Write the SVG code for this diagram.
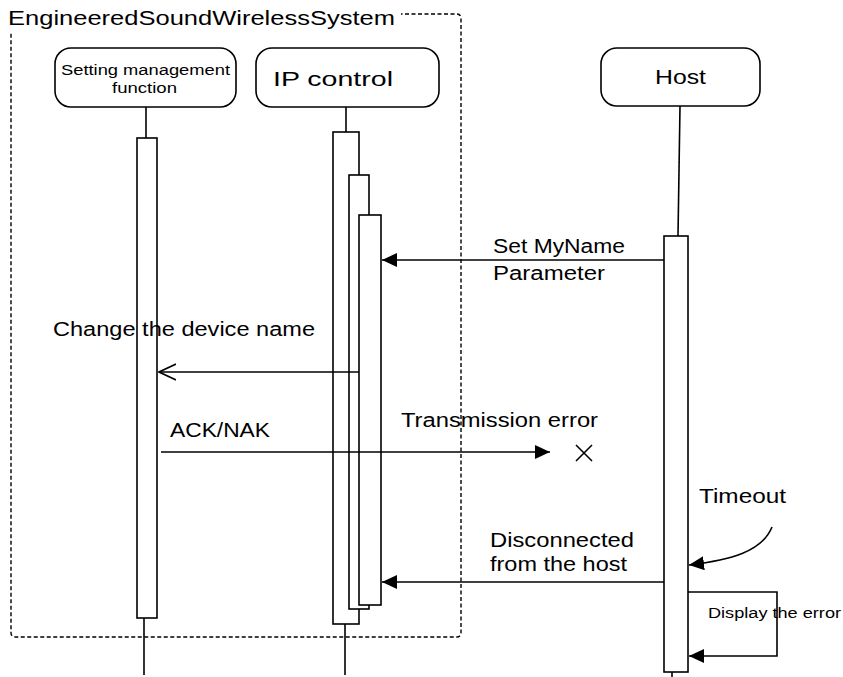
<svg xmlns="http://www.w3.org/2000/svg" width="843" height="677" viewBox="0 0 843 677">
  <style>
    .ln { fill: none; stroke: #000; stroke-width: 1.6; }
    .box { fill: #fff; stroke: #000; stroke-width: 1.6; }
    .act { fill: #fff; stroke: #000; stroke-width: 1.6; }
    .frame { fill: none; stroke: #000; stroke-width: 1.4; stroke-dasharray: 4 2.5; }
    text { font-family: "Liberation Sans", Arial, sans-serif; fill: #000; }
    .big { font-size: 19.5px; }
    .small { font-size: 14px; }
  </style>
  <defs>
    <marker id="filled" markerWidth="16" markerHeight="14" refX="15" refY="7" orient="auto" markerUnits="userSpaceOnUse">
      <path d="M0,0 L15,7 L0,14 Z" fill="#000"/>
    </marker>
    <marker id="open" markerWidth="18" markerHeight="18" refX="17" refY="9" orient="auto" markerUnits="userSpaceOnUse">
      <path d="M0,1 L17,9 L0,17" fill="none" stroke="#000" stroke-width="1.6"/>
    </marker>
  </defs>
  <rect width="843" height="677" fill="#fff"/>

  <!-- system boundary -->
  <g id="system-frame">
    <rect class="frame" x="11" y="14" width="450" height="623" rx="4"/>
    <rect x="0" y="0" width="401" height="32" fill="#fff"/>
    <text class="big" x="8" y="25" textLength="387" lengthAdjust="spacingAndGlyphs">EngineeredSoundWirelessSystem</text>
  </g>

  <!-- lifelines -->
  <g id="lifelines">
    <line class="ln" x1="146" y1="107" x2="146" y2="138"/>
    <line class="ln" x1="144" y1="618" x2="144" y2="675"/>
    <line class="ln" x1="346" y1="107" x2="346" y2="132"/>
    <line class="ln" x1="345" y1="624" x2="345" y2="675"/>
    <line class="ln" x1="680" y1="106" x2="678" y2="236"/>
    <line class="ln" x1="672" y1="672" x2="672" y2="677"/>
  </g>

  <!-- participants -->
  <g id="setting-management">
    <rect class="box" x="55" y="48" width="181" height="59" rx="16"/>
    <text class="small" x="61" y="75" textLength="169" lengthAdjust="spacingAndGlyphs">Setting management</text>
    <text class="small" x="112" y="93" textLength="65" lengthAdjust="spacingAndGlyphs">function</text>
    <rect class="act" x="137" y="138" width="20" height="480"/>
  </g>

  <g id="ip-control">
    <rect class="box" x="256" y="48" width="183" height="59" rx="16"/>
    <text class="big" x="273" y="86" textLength="120" lengthAdjust="spacingAndGlyphs">IP control</text>
    <rect class="act" x="333" y="132" width="26" height="492"/>
    <rect class="act" x="349" y="175" width="20" height="434"/>
    <rect class="act" x="359" y="215" width="22" height="390"/>
  </g>

  <g id="host">
    <rect class="box" x="601" y="48" width="159" height="58" rx="16"/>
    <text class="big" x="655" y="84" textLength="51" lengthAdjust="spacingAndGlyphs">Host</text>
    <rect class="act" x="664" y="236" width="24" height="436"/>
  </g>

  <!-- messages -->
  <g id="connectors">
    <line class="ln" x1="664" y1="260" x2="382" y2="260" marker-end="url(#filled)"/>
    <line class="ln" x1="359" y1="372" x2="159" y2="372" marker-end="url(#open)"/>
    <line class="ln" x1="161" y1="452" x2="550" y2="452" marker-end="url(#filled)"/>
    <path class="ln" d="M576,445 L592,461 M592,445 L576,461"/>
    <path class="ln" d="M772,527 C762,552 730,560 689,565" marker-end="url(#filled)"/>
    <line class="ln" x1="664" y1="582" x2="382" y2="582" marker-end="url(#filled)"/>
    <path class="ln" d="M688,592 L777,592 L777,656 L689,656" marker-end="url(#filled)"/>
  </g>

  <!-- message labels -->
  <g id="labels">
    <text class="big" x="493" y="253" textLength="132" lengthAdjust="spacingAndGlyphs">Set MyName</text>
    <text class="big" x="493" y="280" textLength="112" lengthAdjust="spacingAndGlyphs">Parameter</text>
    <text class="big" x="53" y="336" textLength="262" lengthAdjust="spacingAndGlyphs">Change the device name</text>
    <text class="big" x="170" y="437" textLength="100" lengthAdjust="spacingAndGlyphs">ACK/NAK</text>
    <text class="big" x="401" y="427" textLength="197" lengthAdjust="spacingAndGlyphs">Transmission error</text>
    <text class="big" x="699" y="503" textLength="87" lengthAdjust="spacingAndGlyphs">Timeout</text>
    <text class="big" x="490" y="547" textLength="144" lengthAdjust="spacingAndGlyphs">Disconnected</text>
    <text class="big" x="490" y="571" textLength="137" lengthAdjust="spacingAndGlyphs">from the host</text>
    <text class="small" x="708" y="618" textLength="133" lengthAdjust="spacingAndGlyphs">Display the error</text>
  </g>
</svg>
